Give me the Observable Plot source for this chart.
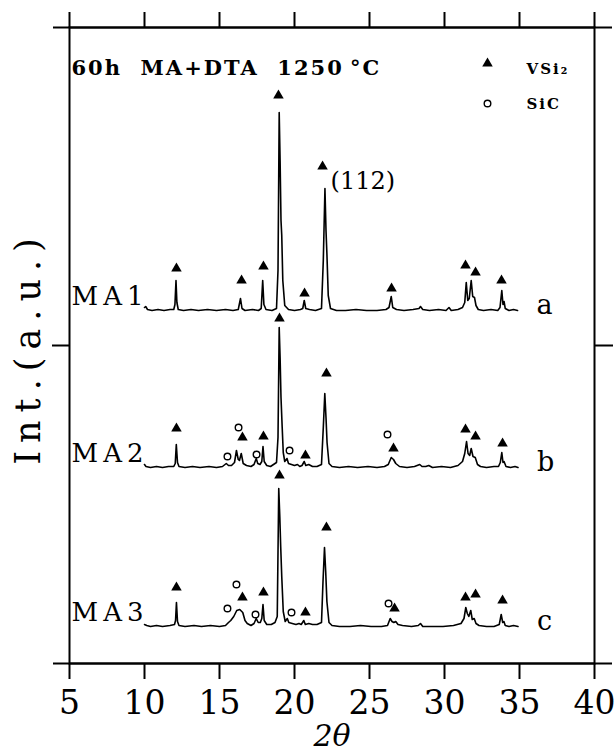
<!DOCTYPE html>
<html>
<head>
<meta charset="utf-8">
<script src="https://cdn.jsdelivr.net/npm/d3@7"></script>
<script src="https://cdn.jsdelivr.net/npm/@observablehq/plot@0.6"></script>
<style>
  body { margin: 0; background: #fff; }
  .samplelab { letter-spacing: 5px; }
  .legendlab { letter-spacing: 2px; }
  .titlelab { letter-spacing: 2px; }
  .ylab { letter-spacing: 8px; }
</style>
</head>
<body>
<div id="chart"></div>
<script>
// ---- data (2θ in degrees, intensity in arbitrary units above each pattern's baseline) ----
const xTicks = [5, 10, 15, 20, 25, 30, 35, 40];
const midTick = [318];
const samples = ["MA1", "MA2", "MA3"];
const sampleLetters = ["a", "b", "c"];
const baselines = [353, 196, 37];   // vertical offsets of the stacked patterns (a.u.)

const ma1 = [
  [10.0,3],[10.08,4],[10.2,1],[10.5,0],[10.9,1],[11.3,0],[11.7,1],[11.95,1],[12.03,6],[12.1,30],[12.16,8],[12.25,1],
  [12.6,0],[13.1,1],[13.6,0],[14.2,1],[14.8,0],[15.4,1],[15.9,0],[16.25,1],[16.4,12],[16.5,2],[16.7,0],[17.2,1],
  [17.6,0],[17.78,2],[17.88,30],[17.96,6],[18.1,1],[18.5,0],[18.8,2],[18.9,40],[18.98,198],[19.04,150],[19.1,90],
  [19.15,75],[19.22,30],[19.35,5],[19.6,1],[20.0,0],[20.4,1],[20.55,2],[20.65,10],[20.75,2],[21.0,1],[21.4,0],
  [21.8,2],[21.92,50],[22.03,122],[22.1,80],[22.16,57],[22.25,15],[22.4,2],[22.8,0],[23.4,0],[24.1,1],[24.8,0],
  [25.5,0],[26.1,1],[26.3,3],[26.45,14],[26.55,3],[26.8,1],[27.3,0],[27.9,1],[28.3,2],[28.4,4],[28.55,1],[29.0,0],
  [29.6,1],[30.1,0],[30.3,3],[30.45,0],[30.9,1],[31.2,3],[31.35,8],[31.45,28],[31.55,10],[31.65,12],[31.78,30],
  [31.88,14],[32.0,13],[32.1,5],[32.25,1],[32.6,0],[33.1,1],[33.55,0],[33.7,3],[33.82,20],[33.9,6],[33.97,9],
  [34.05,2],[34.3,0],[34.6,1],[34.87,0]
];
const ma2 = [
  [10.0,3],[10.1,1],[10.4,0],[10.8,1],[11.2,0],[11.6,1],[11.95,1],[12.05,4],[12.12,23],[12.2,5],[12.3,1],[12.7,0],
  [13.2,1],[13.7,0],[14.3,1],[14.8,0],[15.2,1],[15.45,4],[15.6,2],[15.8,2],[16.0,5],[16.13,17],[16.25,8],[16.33,7],
  [16.45,14],[16.58,4],[16.8,2],[17.1,1],[17.3,3],[17.45,9],[17.55,4],[17.7,3],[17.82,6],[17.9,21],[17.98,6],
  [18.15,2],[18.4,1],[18.6,3],[18.8,5],[18.9,30],[18.98,140],[19.04,110],[19.1,70],[19.18,40],[19.25,15],[19.35,6],
  [19.5,9],[19.6,4],[19.8,3],[20.0,2],[20.2,3],[20.35,1],[20.5,2],[20.65,6],[20.75,2],[20.95,3],[21.2,1],[21.5,1],
  [21.8,3],[21.92,40],[22.02,74],[22.1,50],[22.17,25],[22.3,4],[22.5,1],[23.0,0],[23.6,1],[24.2,0],[24.9,1],
  [25.5,0],[26.0,1],[26.25,3],[26.45,10],[26.6,8],[26.75,4],[27.0,1],[27.5,0],[28.0,1],[28.35,3],[28.5,1],
  [28.75,1],[28.95,2],[29.2,0],[29.8,1],[30.4,0],[30.9,2],[31.2,6],[31.35,14],[31.47,26],[31.57,14],[31.68,12],
  [31.78,19],[31.9,11],[32.05,10],[32.2,3],[32.4,1],[32.8,0],[33.3,1],[33.6,1],[33.72,5],[33.82,15],[33.9,5],
  [33.97,6],[34.1,1],[34.4,0],[34.7,1],[34.9,0]
];
const ma3 = [
  [10.0,2],[10.15,1],[10.4,0],[10.8,1],[11.2,0],[11.7,1],[12.0,2],[12.07,6],[12.13,24],[12.2,5],[12.3,1],[12.7,0],
  [13.3,1],[13.8,0],[14.4,1],[15.0,0],[15.4,1],[15.6,4],[15.75,6],[15.95,10],[16.15,16],[16.35,17],[16.55,14],
  [16.7,6],[16.85,3],[17.1,1],[17.3,3],[17.45,8],[17.58,4],[17.72,4],[17.82,8],[17.9,22],[17.98,6],[18.15,2],
  [18.45,2],[18.7,4],[18.85,10],[18.95,138],[19.02,110],[19.08,80],[19.15,50],[19.25,15],[19.38,5],[19.52,8],
  [19.62,4],[19.85,3],[20.1,2],[20.3,3],[20.45,2],[20.62,6],[20.72,2],[20.95,3],[21.2,2],[21.5,2],[21.8,4],
  [21.9,45],[22.0,79],[22.08,55],[22.16,25],[22.3,4],[22.5,1],[23.0,0],[23.7,0],[24.4,1],[25.1,0],[25.8,0],
  [26.2,1],[26.38,8],[26.5,5],[26.62,4],[26.75,5],[26.9,2],[27.2,1],[27.8,0],[28.25,1],[28.4,3],[28.55,0],
  [29.2,0],[29.9,0],[30.6,1],[31.1,3],[31.3,8],[31.42,19],[31.52,13],[31.62,10],[31.75,16],[31.85,7],[31.98,8],
  [32.1,3],[32.3,1],[32.8,0],[33.3,0],[33.65,2],[33.78,12],[33.88,4],[33.96,5],[34.05,1],[34.3,0],[34.6,1],[34.9,0]
];
const patterns = [ma1, ma2, ma3];

// peak markers: [2θ, height above baseline]
const ma1Vsi2 = [[12.13,42],[16.47,30],[17.93,44],[18.93,215],[20.67,17],[21.87,144],[26.47,22],[31.4,45],[32.07,38],[33.8,30]];
const ma2Vsi2 = [[12.13,39],[16.53,30],[17.93,31],[19.0,149],[20.73,12],[22.13,94],[26.6,19],[31.4,38],[32.07,31],[33.87,24]];
const ma2Sic  = [[15.53,11],[16.27,40],[17.47,13],[19.67,17],[26.2,33]];
const ma3Vsi2 = [[12.13,39],[16.53,29],[17.93,34],[19.0,151],[20.73,14],[22.13,99],[26.67,18],[31.4,29],[32.07,32],[33.87,26]];
const ma3Sic  = [[15.53,18],[16.13,42],[17.4,12],[19.8,14],[26.27,23]];
const vsi2Markers = [ma1Vsi2, ma2Vsi2, ma3Vsi2];
const sicMarkers = [[], ma2Sic, ma3Sic];

const peakLabel = "(112)";
const peakLabelAt = [21.87, 144]; // the MA1 (112) marker
const titleText = "60h\u00a0\u00a0MA+DTA\u00a0\u00a01250\u2009°C";
const legendNames = ["VSi\u2082", "SiC"];
const xLabel = "2\u03b8";
const yLabel = "Int.(a.u.)";

// ---- derived tables ----
const toRows = (arrs) => arrs.flatMap((arr, i) =>
  arr.map(([t, v]) => ({sample: samples[i], theta: t, int: baselines[i] + v})));
const traceRows = toRows(patterns);
const triRows = toRows(vsi2Markers);
const circRows = toRows(sicMarkers);
const startRows = patterns.map((p, i) => ({name: samples[i], theta: p[0][0], int: baselines[i]}));
const endRows = patterns.map((p, i) => ({name: sampleLetters[i], theta: p[p.length - 1][0], int: baselines[i]}));
const peakRows = [{text: peakLabel, theta: peakLabelAt[0], int: baselines[0] + peakLabelAt[1]}];

const serif = "'DejaVu Serif', 'Liberation Serif', serif";

const chart = Plot.plot({
  width: 615,
  height: 755,
  marginLeft: 69,
  marginRight: 21,
  marginTop: 27,
  marginBottom: 92,
  x: {domain: [5, 40]},
  y: {domain: [0, 636]},
  style: {fontFamily: serif, background: "white", color: "black"},
  marks: [
    Plot.frame({stroke: "black", strokeWidth: 2}),
    Plot.ruleY([0, 636], {stroke: "black", strokeWidth: 2, insetLeft: -16, insetRight: -18}),
    Plot.axisX({anchor: "bottom", ticks: xTicks, tickSize: 16, tickPadding: 11, fontSize: 33, strokeWidth: 2, label: null}),
    Plot.axisX({anchor: "top", ticks: xTicks, tickSize: 16, tickFormat: () => "", strokeWidth: 2, label: null}),
    Plot.axisY({anchor: "left", ticks: midTick, tickSize: 17, tickFormat: () => "", strokeWidth: 2, label: null}),
    Plot.axisY({anchor: "right", ticks: midTick, tickSize: 18, tickFormat: () => "", strokeWidth: 2, label: null}),
    Plot.line(traceRows, {x: "theta", y: "int", z: "sample", stroke: "black", strokeWidth: 1.6, strokeLinejoin: "round"}),
    Plot.dot(triRows, {x: "theta", y: "int", symbol: "triangle", r: 3.9, fill: "black", stroke: "none"}),
    Plot.dot(circRows, {x: "theta", y: "int", r: 3.3, stroke: "black", fill: "white", strokeWidth: 1.4}),
    Plot.text(startRows, {x: "theta", y: "int", text: "name", textAnchor: "end", lineAnchor: "bottom", dx: 4, dy: -6, fontSize: 26, className: "samplelab"}),
    Plot.text(endRows, {x: "theta", y: "int", text: "name", textAnchor: "start", lineAnchor: "bottom", dx: 19, dy: 3, fontSize: 27}),
    Plot.text(peakRows, {x: "theta", y: "int", text: "text", textAnchor: "start", lineAnchor: "middle", dx: 8, dy: 15, fontSize: 24}),
    Plot.text([titleText], {frameAnchor: "top-left", textAnchor: "start", lineAnchor: "bottom", dx: 2, dy: 47, fontSize: 21, fontWeight: "bold", className: "titlelab"}),
    Plot.dot([legendNames[0]], {frameAnchor: "top-left", dx: 418, dy: 36, symbol: "triangle", r: 3.9, fill: "black", stroke: "none"}),
    Plot.dot([legendNames[1]], {frameAnchor: "top-left", dx: 418, dy: 76, r: 3.3, stroke: "black", fill: "white", strokeWidth: 1.4}),
    Plot.text([legendNames[0]], {frameAnchor: "top-left", textAnchor: "start", lineAnchor: "bottom", dx: 457, dy: 46, fontSize: 15, fontWeight: "bold", className: "legendlab"}),
    Plot.text([legendNames[1]], {frameAnchor: "top-left", textAnchor: "start", lineAnchor: "bottom", dx: 457, dy: 81, fontSize: 15, fontWeight: "bold", className: "legendlab"}),
    Plot.text([xLabel], {frameAnchor: "bottom", textAnchor: "middle", lineAnchor: "middle", dy: 73, fontSize: 30, fontStyle: "italic"}),
    Plot.text([yLabel], {frameAnchor: "left", textAnchor: "middle", rotate: -90, lineAnchor: "middle", dx: -41, dy: 2, fontSize: 35, className: "ylab"})
  ]
});
document.getElementById("chart").appendChild(chart);
</script>
</body>
</html>
